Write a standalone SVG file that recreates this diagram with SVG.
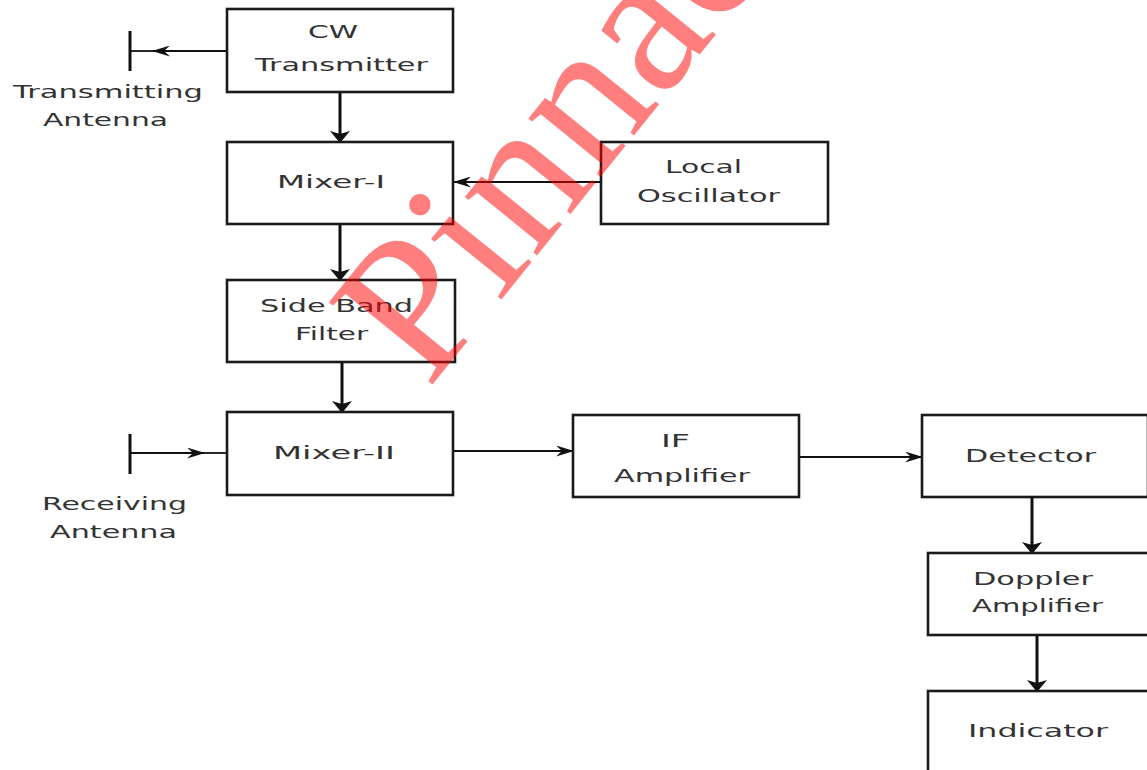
<svg xmlns="http://www.w3.org/2000/svg" width="1147" height="770" viewBox="0 0 1147 770">
  <style>
    .box { fill: #ffffff; stroke: #1a1a1a; stroke-width: 2.6; }
    .lbl { font-family: "DejaVu Sans", "Liberation Sans", sans-serif; font-size: 18px; fill: #333333; }
    .thin { fill: none; stroke: #111111; stroke-width: 1.8; }
    .thick { fill: none; stroke: #111111; stroke-width: 3; }
    .ant { fill: none; stroke: #111111; stroke-width: 3; }
    .wm { font-family: "Liberation Serif", "Times New Roman", serif; font-size: 202px; fill: #ff0000; fill-opacity: 0.5; }
  </style>
  <defs>
    <marker id="ah" markerUnits="userSpaceOnUse" viewBox="0 0 18 11" markerWidth="18" markerHeight="11" refX="17" refY="5.5" orient="auto">
      <path d="M0,0 L18,5.5 L0,11 L6,5.5 z" fill="#111111"/>
    </marker>
    <marker id="av" markerUnits="userSpaceOnUse" viewBox="0 0 12 20" markerWidth="12" markerHeight="20" refX="11" refY="10" orient="auto">
      <path d="M0,0 L12,10 L0,20 L3,10 z" fill="#111111"/>
    </marker>
  </defs>
  <rect x="0" y="0" width="1147" height="770" fill="#ffffff"/>

  <g id="connectors">
    <path class="thin" d="M227,51 L153,51" marker-end="url(#ah)"/>
    <path class="thin" d="M153,51 L130,51"/>
    <path class="thick" d="M340,92 L340,142" marker-end="url(#av)"/>
    <path class="thin" d="M601,182 L454,182" marker-end="url(#ah)"/>
    <path class="thick" d="M340,224 L340,280" marker-end="url(#av)"/>
    <path class="thick" d="M342,362 L342,412" marker-end="url(#av)"/>
    <path class="thin" d="M130,453 L204,453" marker-end="url(#ah)"/>
    <path class="thin" d="M204,453 L227,453"/>
    <path class="thin" d="M453,451 L573,451" marker-end="url(#ah)"/>
    <path class="thin" d="M799,457 L922,457" marker-end="url(#ah)"/>
    <path class="thick" d="M1032,497 L1032,553" marker-end="url(#av)"/>
    <path class="thick" d="M1037,635 L1037,691" marker-end="url(#av)"/>
  </g>

  <g id="tx-antenna">
    <line class="ant" x1="130" y1="31" x2="130" y2="71"/>
    <text class="lbl" x="13" y="98" textLength="190" lengthAdjust="spacingAndGlyphs">Transmitting</text>
    <text class="lbl" x="43" y="126" textLength="125" lengthAdjust="spacingAndGlyphs">Antenna</text>
  </g>

  <g id="cw-transmitter">
    <rect class="box" x="227" y="9" width="226" height="83"/>
    <text class="lbl" x="308" y="38" textLength="50" lengthAdjust="spacingAndGlyphs">CW</text>
    <text class="lbl" x="255" y="71" textLength="173" lengthAdjust="spacingAndGlyphs">Transmitter</text>
  </g>

  <g id="mixer-1">
    <rect class="box" x="227" y="142" width="226" height="82"/>
    <text class="lbl" x="277" y="188" textLength="108" lengthAdjust="spacingAndGlyphs">Mixer-I</text>
  </g>

  <g id="local-oscillator">
    <rect class="box" x="601" y="142" width="227" height="82"/>
    <text class="lbl" x="665" y="173" textLength="77" lengthAdjust="spacingAndGlyphs">Local</text>
    <text class="lbl" x="637" y="202" textLength="143" lengthAdjust="spacingAndGlyphs">Oscillator</text>
  </g>

  <g id="side-band-filter">
    <rect class="box" x="227" y="280" width="228" height="82"/>
    <text class="lbl" x="260" y="312" textLength="153" lengthAdjust="spacingAndGlyphs">Side Band</text>
    <text class="lbl" x="295" y="340" textLength="73" lengthAdjust="spacingAndGlyphs">Filter</text>
  </g>

  <g id="mixer-2">
    <rect class="box" x="227" y="412" width="226" height="83"/>
    <text class="lbl" x="273" y="459" textLength="122" lengthAdjust="spacingAndGlyphs">Mixer-II</text>
  </g>

  <g id="rx-antenna">
    <line class="ant" x1="130" y1="434" x2="130" y2="474"/>
    <text class="lbl" x="42" y="510" textLength="145" lengthAdjust="spacingAndGlyphs">Receiving</text>
    <text class="lbl" x="50" y="538" textLength="127" lengthAdjust="spacingAndGlyphs">Antenna</text>
  </g>

  <g id="if-amplifier">
    <rect class="box" x="573" y="415" width="226" height="82"/>
    <text class="lbl" x="661" y="447" textLength="29" lengthAdjust="spacingAndGlyphs">IF</text>
    <text class="lbl" x="614" y="482" textLength="136" lengthAdjust="spacingAndGlyphs">Amplifier</text>
  </g>

  <g id="detector">
    <rect class="box" x="922" y="415" width="226" height="82"/>
    <text class="lbl" x="965" y="462" textLength="131" lengthAdjust="spacingAndGlyphs">Detector</text>
  </g>

  <g id="doppler-amplifier">
    <rect class="box" x="928" y="553" width="222" height="82"/>
    <text class="lbl" x="973" y="585" textLength="120" lengthAdjust="spacingAndGlyphs">Doppler</text>
    <text class="lbl" x="972" y="612" textLength="131" lengthAdjust="spacingAndGlyphs">Amplifier</text>
  </g>

  <g id="indicator">
    <rect class="box" x="928" y="691" width="222" height="100"/>
    <text class="lbl" x="968" y="737" textLength="140" lengthAdjust="spacingAndGlyphs">Indicator</text>
  </g>

  <text class="wm" x="428" y="390" transform="rotate(-51 428 390)">Pinnac</text>
</svg>
